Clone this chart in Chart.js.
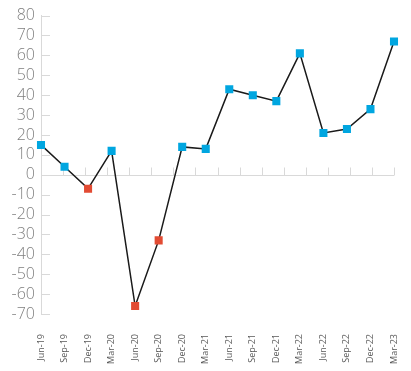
<!DOCTYPE html>
<html>
<head>
<meta charset="utf-8">
<script src="https://cdn.jsdelivr.net/npm/chart.js@4/dist/chart.umd.min.js"></script>
<style>
  html, body { margin: 0; padding: 0; background: #fff; }
  #wrap { width: 411px; height: 371px; }
</style>
</head>
<body>
<div id="wrap"><canvas id="chart"></canvas></div>
<script>
// Data
const quarters = ['Jun-19', 'Sep-19', 'Dec-19', 'Mar-20', 'Jun-20', 'Sep-20', 'Dec-20', 'Mar-21',
  'Jun-21', 'Sep-21', 'Dec-21', 'Mar-22', 'Jun-22', 'Sep-22', 'Dec-22', 'Mar-23']
const values = [15, 4, -7, 12, -66, -33, 14, 13, 43, 40, 37, 61, 21, 23, 33, 67]
const yMin = -70
const yMax = 80
const yStep = 10

const blue = '#00a6e0'
const red = '#e24b33'
const axisGrey = '#d9d9d9'

const pointColors = values.map(v => v < 0 ? red : blue)

// inward ticks on the y axis, zero line with upward ticks
const axisMarks = {
  id: 'axisMarks',
  beforeDatasetsDraw(chart) {
    const { ctx, chartArea, scales } = chart
    const y0 = scales.y.getPixelForValue(0)
    const left = chartArea.left
    const right = chartArea.right
    ctx.save()
    ctx.strokeStyle = axisGrey
    ctx.lineWidth = 1
    ctx.beginPath()
    scales.y.ticks.forEach(t => {
      const py = Math.round(scales.y.getPixelForValue(t.value)) + 0.5
      ctx.moveTo(left, py)
      ctx.lineTo(left + 9, py)
    })
    const zy = Math.round(y0) + 0.5
    ctx.moveTo(left, zy)
    ctx.lineTo(right, zy)
    const n = quarters.length
    for (let k = 1; k <= n; k++) {
      const px = Math.round(left + k * (right - left) / n) + 0.5
      ctx.moveTo(px, zy)
      ctx.lineTo(px, zy - 8)
    }
    ctx.stroke()
    ctx.restore()
  }
}

const ctx = document.getElementById('chart')
new Chart(ctx, {
  type: 'line',
  data: {
    labels: quarters,
    datasets: [{
      data: values,
      borderColor: '#1a1a1a',
      borderWidth: 1.5,
      tension: 0,
      pointStyle: 'rect',
      pointRadius: 5.7,
      pointHoverRadius: 5.7,
      pointBackgroundColor: pointColors,
      pointBorderColor: pointColors,
      pointBorderWidth: 0
    }]
  },
  options: {
    responsive: true,
    maintainAspectRatio: false,
    animation: false,
    layout: { padding: { top: 14, right: 17, bottom: 0, left: 0 } },
    plugins: {
      legend: { display: false },
      tooltip: { enabled: false }
    },
    scales: {
      x: {
        type: 'category',
        offset: false,
        grid: { display: false },
        border: { display: false },
        afterFit(scale) {
          scale.height = 57
          scale.paddingLeft = 0
          scale.paddingRight = 0
        },
        ticks: {
          autoSkip: false,
          minRotation: 90,
          maxRotation: 90,
          padding: 12,
          color: '#595959',
          font: { family: 'Open Sans', size: 9 }
        }
      },
      y: {
        min: yMin,
        max: yMax,
        grid: { display: false, drawTicks: false },
        border: { display: true, color: axisGrey, width: 1 },
        afterFit(scale) { scale.width = 41 },
        ticks: {
          stepSize: yStep,
          autoSkip: false,
          padding: 6,
          color: '#7f7f7f',
          font: { family: 'Open Sans', size: 16, weight: '300' }
        }
      }
    }
  },
  plugins: [axisMarks]
})
</script>
</body>
</html>
